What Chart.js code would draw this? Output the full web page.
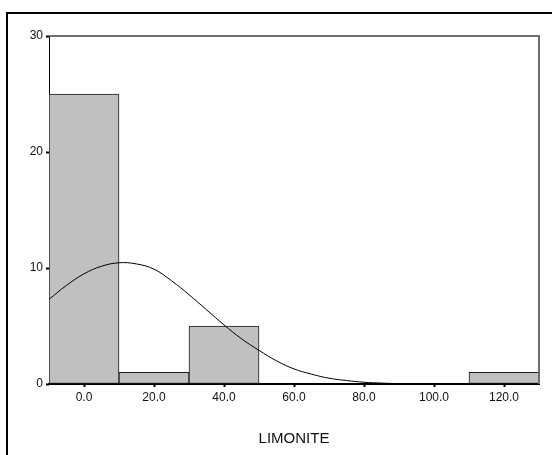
<!DOCTYPE html>
<html>
<head>
<meta charset="utf-8">
<title>LIMONITE</title>
<script src="https://cdn.jsdelivr.net/npm/chart.js@4/dist/chart.umd.min.js"></script>
<style>
    html, body { margin: 0; padding: 0; background: #fff; }
    #wrap { position: relative; width: 552px; height: 455px; }
</style>
</head>
<body>
<div id="wrap"><canvas id="histogram" width="552" height="455"></canvas></div>
<script>
// Histogram bins (bin centres, width 20) and their counts
const binCenters = [0, 20, 40, 60, 80, 100, 120];
const binCounts = [25, 1, 5, 0, 0, 0, 1];

// Fitted normal curve, sampled along the axis
const curveX = [-10, -5, 0, 5, 10, 15, 20, 25, 30, 35, 40, 45, 50, 55, 60, 65, 70, 75, 80, 85, 90, 95, 100, 110, 120, 130];
const curveY = [7.3, 8.5, 9.5, 10.15, 10.45, 10.35, 9.9, 8.9, 7.7, 6.4, 5.1, 3.9, 2.9, 2.0, 1.3, 0.85, 0.5, 0.3, 0.15, 0.08, 0.03, 0.01, 0, 0, 0, 0];

// Axis ticks
const xTicks = [0, 20, 40, 60, 80, 100, 120];
const yTicks = [0, 10, 20, 30];

const FONT = 'Arial, "Liberation Sans", sans-serif';

// outer frame of the chart plus the grey top/right edge of the plot
const framePlugin = {
    id: "frame",
    beforeDraw(chart) {
        const c = chart.ctx;
        c.save();
        c.strokeStyle = "#000";
        c.lineWidth = 2;
        c.beginPath();
        c.moveTo(7, 455);
        c.lineTo(7, 13);
        c.lineTo(552, 13);
        c.stroke();
        c.restore();
    },
    afterDraw(chart) {
        const a = chart.chartArea;
        const c = chart.ctx;
        c.save();
        c.strokeStyle = "#6e6e6e";
        c.lineWidth = 2;
        c.beginPath();
        c.moveTo(a.left, a.top);
        c.lineTo(a.right, a.top);
        c.lineTo(a.right, a.bottom);
        c.stroke();
        c.restore();
    },
};

const ctx = document.getElementById("histogram").getContext("2d");
new Chart(ctx, {
    type: "bar",
    data: {
        datasets: [
            {
                type: "line",
                data: curveX.map((x, i) => ({ x: x, y: curveY[i] })),
                borderColor: "#000",
                borderWidth: 1,
                pointRadius: 0,
                tension: 0.4,
                fill: false,
            },
            {
                type: "bar",
                data: binCenters.map((x, i) => ({ x: x, y: binCounts[i] })),
                backgroundColor: "#c0c0c0",
                borderColor: "#1a1a1a",
                borderWidth: 1,
                borderSkipped: false,
                barPercentage: 1,
                categoryPercentage: 1,
            },
        ],
    },
    options: {
        responsive: false,
        animation: false,
        layout: { padding: { left: 0, right: 13, top: 36, bottom: 0 } },
        plugins: {
            legend: { display: false },
            tooltip: { enabled: false },
        },
        scales: {
            x: {
                type: "linear",
                min: -10,
                max: 130,
                offset: false,
                afterBuildTicks: (scale) => {
                    scale.ticks = xTicks.map((v) => ({ value: v }));
                },
                afterFit: (scale) => {
                    scale.height = 71;
                },
                ticks: {
                    padding: 3,
                    maxRotation: 0,
                    autoSkip: false,
                    color: "#111",
                    font: { family: FONT, size: 12 },
                    callback: (v) => Number(v).toFixed(1),
                },
                grid: {
                    offset: false,
                    drawOnChartArea: false,
                    tickLength: 3,
                    tickWidth: 2,
                    tickColor: "#000",
                },
                border: { color: "#000", width: 2 },
                title: {
                    display: true,
                    text: "LIMONITE",
                    color: "#111",
                    font: { family: FONT, size: 15 },
                    padding: { top: 0, bottom: 7 },
                },
            },
            y: {
                min: 0,
                max: 30,
                afterBuildTicks: (scale) => {
                    scale.ticks = yTicks.map((v) => ({ value: v }));
                },
                afterFit: (scale) => {
                    scale.width = 49;
                },
                ticks: {
                    padding: 3,
                    color: "#111",
                    font: { family: FONT, size: 12 },
                },
                grid: {
                    drawOnChartArea: false,
                    tickLength: 3,
                    tickWidth: 2,
                    tickColor: "#000",
                },
                border: { color: "#000", width: 1 },
            },
        },
    },
    plugins: [framePlugin],
});
</script>
</body>
</html>
